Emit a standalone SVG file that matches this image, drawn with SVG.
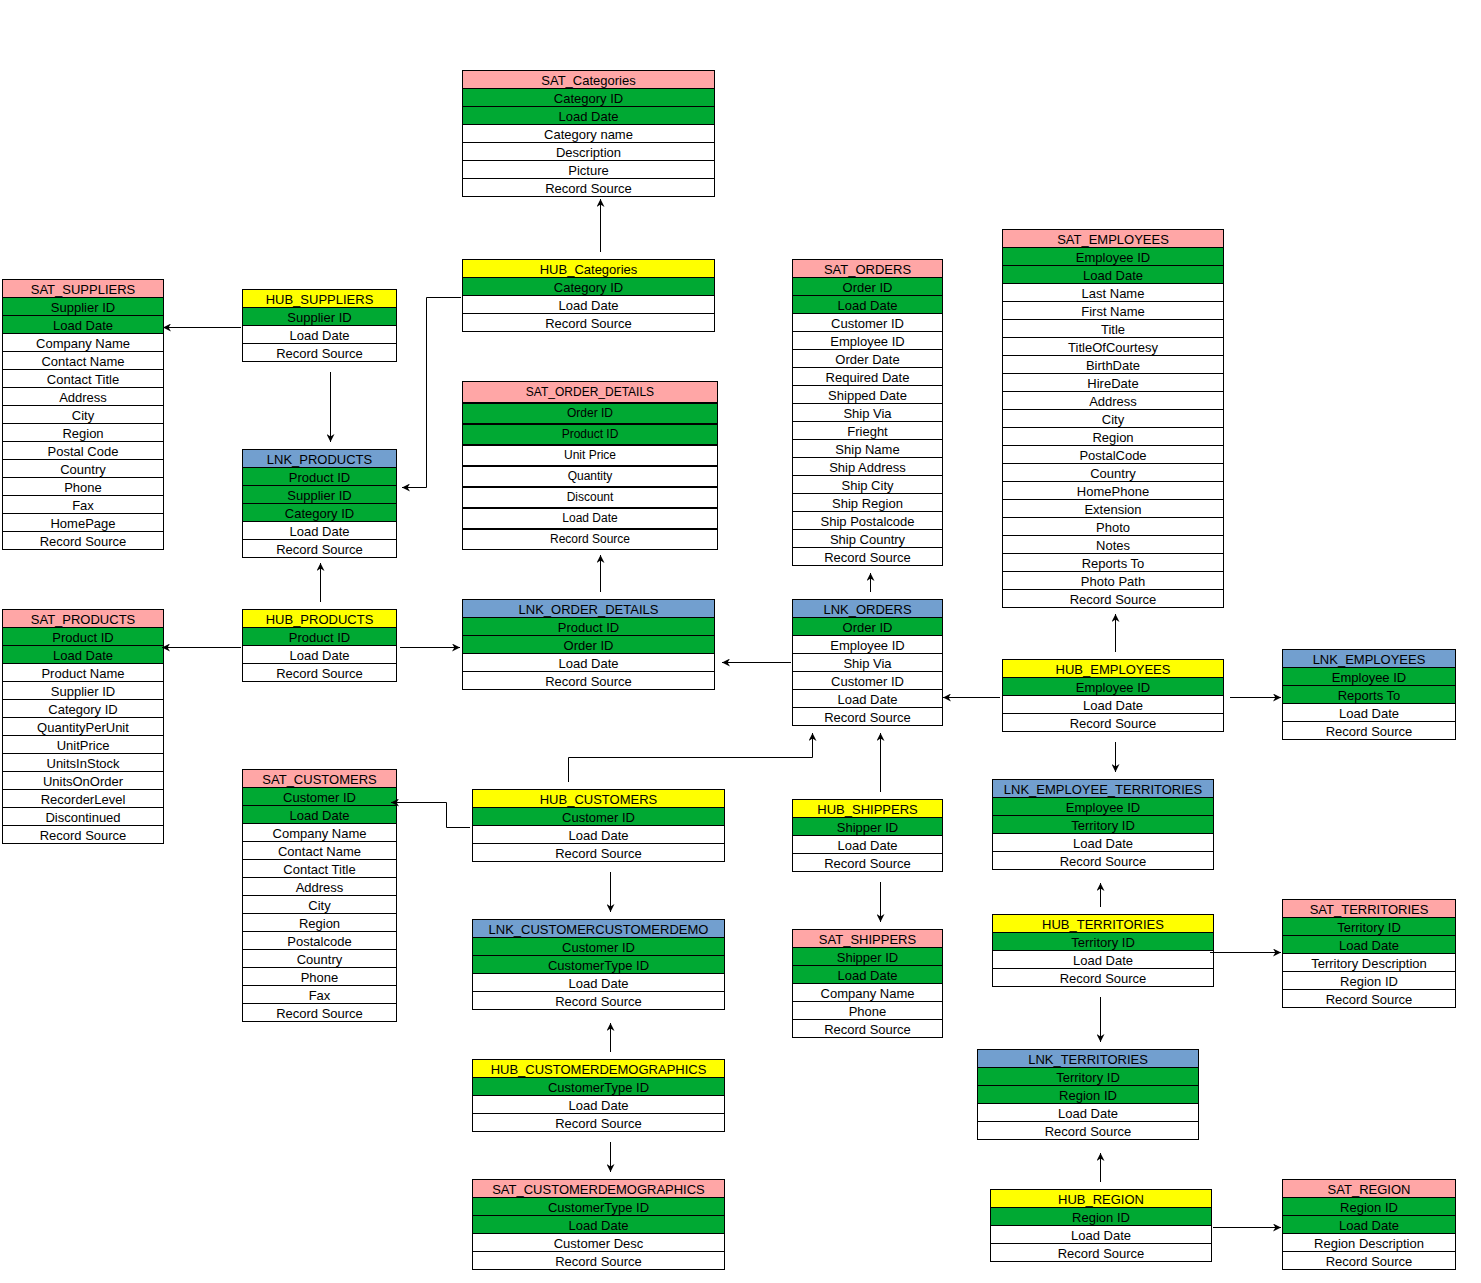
<svg xmlns="http://www.w3.org/2000/svg" width="1481" height="1283" viewBox="0 0 1481 1283">
<style>
.p{fill:#FFA6A6}.y{fill:#FFFF00}.b{fill:#729FCF}.g{fill:#00A933}.w{fill:#FFFFFF}
g rect{stroke:#000;stroke-width:1}
text{font-family:"Liberation Sans",Arial,sans-serif;font-size:13px;text-anchor:middle;fill:#000}
.s text{font-size:12px}
.c path{fill:none;stroke:#000;stroke-width:1;marker-end:url(#a)}
.d{stroke:#000;stroke-width:1}
</style>
<defs>
<marker id="a" viewBox="0 0 10 10" refX="10" refY="5" markerWidth="8" markerHeight="8" markerUnits="userSpaceOnUse" orient="auto"><path d="M0,0 L10,5 L0,10 L3,5 z" fill="#000"/></marker>
</defs>
<rect x="0" y="0" width="1481" height="1283" style="fill:#fff;stroke:none"/>

<g id="sat_categories">
<rect class="p" x="462.5" y="70.5" width="252" height="18"/><text x="588.5" y="85.3">SAT_Categories</text>
<rect class="g" x="462.5" y="88.5" width="252" height="18"/><text x="588.5" y="103.3">Category ID</text>
<rect class="g" x="462.5" y="106.5" width="252" height="18"/><text x="588.5" y="121.3">Load Date</text>
<rect class="w" x="462.5" y="124.5" width="252" height="18"/><text x="588.5" y="139.3">Category name</text>
<rect class="w" x="462.5" y="142.5" width="252" height="18"/><text x="588.5" y="157.3">Description</text>
<rect class="w" x="462.5" y="160.5" width="252" height="18"/><text x="588.5" y="175.3">Picture</text>
<rect class="w" x="462.5" y="178.5" width="252" height="18"/><text x="588.5" y="193.3">Record Source</text>
</g>

<g id="hub_categories">
<rect class="y" x="462.5" y="259.5" width="252" height="18"/><text x="588.5" y="274.3">HUB_Categories</text>
<rect class="g" x="462.5" y="277.5" width="252" height="18"/><text x="588.5" y="292.3">Category ID</text>
<rect class="w" x="462.5" y="295.5" width="252" height="18"/><text x="588.5" y="310.3">Load Date</text>
<rect class="w" x="462.5" y="313.5" width="252" height="18"/><text x="588.5" y="328.3">Record Source</text>
</g>

<g id="sat_suppliers">
<rect class="p" x="2.5" y="279.5" width="161" height="18"/><text x="83" y="294.3">SAT_SUPPLIERS</text>
<rect class="g" x="2.5" y="297.5" width="161" height="18"/><text x="83" y="312.3">Supplier ID</text>
<rect class="g" x="2.5" y="315.5" width="161" height="18"/><text x="83" y="330.3">Load Date</text>
<rect class="w" x="2.5" y="333.5" width="161" height="18"/><text x="83" y="348.3">Company Name</text>
<rect class="w" x="2.5" y="351.5" width="161" height="18"/><text x="83" y="366.3">Contact Name</text>
<rect class="w" x="2.5" y="369.5" width="161" height="18"/><text x="83" y="384.3">Contact Title</text>
<rect class="w" x="2.5" y="387.5" width="161" height="18"/><text x="83" y="402.3">Address</text>
<rect class="w" x="2.5" y="405.5" width="161" height="18"/><text x="83" y="420.3">City</text>
<rect class="w" x="2.5" y="423.5" width="161" height="18"/><text x="83" y="438.3">Region</text>
<rect class="w" x="2.5" y="441.5" width="161" height="18"/><text x="83" y="456.3">Postal Code</text>
<rect class="w" x="2.5" y="459.5" width="161" height="18"/><text x="83" y="474.3">Country</text>
<rect class="w" x="2.5" y="477.5" width="161" height="18"/><text x="83" y="492.3">Phone</text>
<rect class="w" x="2.5" y="495.5" width="161" height="18"/><text x="83" y="510.3">Fax</text>
<rect class="w" x="2.5" y="513.5" width="161" height="18"/><text x="83" y="528.3">HomePage</text>
<rect class="w" x="2.5" y="531.5" width="161" height="18"/><text x="83" y="546.3">Record Source</text>
</g>

<g id="hub_suppliers">
<rect class="y" x="242.5" y="289.5" width="154" height="18"/><text x="319.5" y="304.3">HUB_SUPPLIERS</text>
<rect class="g" x="242.5" y="307.5" width="154" height="18"/><text x="319.5" y="322.3">Supplier ID</text>
<rect class="w" x="242.5" y="325.5" width="154" height="18"/><text x="319.5" y="340.3">Load Date</text>
<rect class="w" x="242.5" y="343.5" width="154" height="18"/><text x="319.5" y="358.3">Record Source</text>
</g>

<g id="lnk_products">
<rect class="b" x="242.5" y="449.5" width="154" height="18"/><text x="319.5" y="464.3">LNK_PRODUCTS</text>
<rect class="g" x="242.5" y="467.5" width="154" height="18"/><text x="319.5" y="482.3">Product ID</text>
<rect class="g" x="242.5" y="485.5" width="154" height="18"/><text x="319.5" y="500.3">Supplier ID</text>
<rect class="g" x="242.5" y="503.5" width="154" height="18"/><text x="319.5" y="518.3">Category ID</text>
<rect class="w" x="242.5" y="521.5" width="154" height="18"/><text x="319.5" y="536.3">Load Date</text>
<rect class="w" x="242.5" y="539.5" width="154" height="18"/><text x="319.5" y="554.3">Record Source</text>
</g>

<g id="sat_order_details" class="s">
<rect class="p" x="462.5" y="381.5" width="255" height="21"/><text x="590" y="396.3">SAT_ORDER_DETAILS</text>
<rect class="g" x="462.5" y="402.5" width="255" height="21"/><text x="590" y="417.3">Order ID</text>
<rect class="g" x="462.5" y="423.5" width="255" height="21"/><text x="590" y="438.3">Product ID</text>
<rect class="w" x="462.5" y="444.5" width="255" height="21"/><text x="590" y="459.3">Unit Price</text>
<rect class="w" x="462.5" y="465.5" width="255" height="21"/><text x="590" y="480.3">Quantity</text>
<rect class="w" x="462.5" y="486.5" width="255" height="21"/><text x="590" y="501.3">Discount</text>
<rect class="w" x="462.5" y="507.5" width="255" height="21"/><text x="590" y="522.3">Load Date</text>
<rect class="w" x="462.5" y="528.5" width="255" height="21"/><text x="590" y="543.3">Record Source</text>
<path class="d" d="M462,403.5H718M462,424.5H718M462,445.5H718M462,466.5H718M462,487.5H718M462,508.5H718M462,529.5H718"/>
</g>

<g id="sat_orders">
<rect class="p" x="792.5" y="259.5" width="150" height="18"/><text x="867.5" y="274.3">SAT_ORDERS</text>
<rect class="g" x="792.5" y="277.5" width="150" height="18"/><text x="867.5" y="292.3">Order ID</text>
<rect class="g" x="792.5" y="295.5" width="150" height="18"/><text x="867.5" y="310.3">Load Date</text>
<rect class="w" x="792.5" y="313.5" width="150" height="18"/><text x="867.5" y="328.3">Customer ID</text>
<rect class="w" x="792.5" y="331.5" width="150" height="18"/><text x="867.5" y="346.3">Employee ID</text>
<rect class="w" x="792.5" y="349.5" width="150" height="18"/><text x="867.5" y="364.3">Order Date</text>
<rect class="w" x="792.5" y="367.5" width="150" height="18"/><text x="867.5" y="382.3">Required Date</text>
<rect class="w" x="792.5" y="385.5" width="150" height="18"/><text x="867.5" y="400.3">Shipped Date</text>
<rect class="w" x="792.5" y="403.5" width="150" height="18"/><text x="867.5" y="418.3">Ship Via</text>
<rect class="w" x="792.5" y="421.5" width="150" height="18"/><text x="867.5" y="436.3">Frieght</text>
<rect class="w" x="792.5" y="439.5" width="150" height="18"/><text x="867.5" y="454.3">Ship Name</text>
<rect class="w" x="792.5" y="457.5" width="150" height="18"/><text x="867.5" y="472.3">Ship Address</text>
<rect class="w" x="792.5" y="475.5" width="150" height="18"/><text x="867.5" y="490.3">Ship City</text>
<rect class="w" x="792.5" y="493.5" width="150" height="18"/><text x="867.5" y="508.3">Ship Region</text>
<rect class="w" x="792.5" y="511.5" width="150" height="18"/><text x="867.5" y="526.3">Ship Postalcode</text>
<rect class="w" x="792.5" y="529.5" width="150" height="18"/><text x="867.5" y="544.3">Ship Country</text>
<rect class="w" x="792.5" y="547.5" width="150" height="18"/><text x="867.5" y="562.3">Record Source</text>
</g>

<g id="sat_employees">
<rect class="p" x="1002.5" y="229.5" width="221" height="18"/><text x="1113" y="244.3">SAT_EMPLOYEES</text>
<rect class="g" x="1002.5" y="247.5" width="221" height="18"/><text x="1113" y="262.3">Employee ID</text>
<rect class="g" x="1002.5" y="265.5" width="221" height="18"/><text x="1113" y="280.3">Load Date</text>
<rect class="w" x="1002.5" y="283.5" width="221" height="18"/><text x="1113" y="298.3">Last Name</text>
<rect class="w" x="1002.5" y="301.5" width="221" height="18"/><text x="1113" y="316.3">First Name</text>
<rect class="w" x="1002.5" y="319.5" width="221" height="18"/><text x="1113" y="334.3">Title</text>
<rect class="w" x="1002.5" y="337.5" width="221" height="18"/><text x="1113" y="352.3">TitleOfCourtesy</text>
<rect class="w" x="1002.5" y="355.5" width="221" height="18"/><text x="1113" y="370.3">BirthDate</text>
<rect class="w" x="1002.5" y="373.5" width="221" height="18"/><text x="1113" y="388.3">HireDate</text>
<rect class="w" x="1002.5" y="391.5" width="221" height="18"/><text x="1113" y="406.3">Address</text>
<rect class="w" x="1002.5" y="409.5" width="221" height="18"/><text x="1113" y="424.3">City</text>
<rect class="w" x="1002.5" y="427.5" width="221" height="18"/><text x="1113" y="442.3">Region</text>
<rect class="w" x="1002.5" y="445.5" width="221" height="18"/><text x="1113" y="460.3">PostalCode</text>
<rect class="w" x="1002.5" y="463.5" width="221" height="18"/><text x="1113" y="478.3">Country</text>
<rect class="w" x="1002.5" y="481.5" width="221" height="18"/><text x="1113" y="496.3">HomePhone</text>
<rect class="w" x="1002.5" y="499.5" width="221" height="18"/><text x="1113" y="514.3">Extension</text>
<rect class="w" x="1002.5" y="517.5" width="221" height="18"/><text x="1113" y="532.3">Photo</text>
<rect class="w" x="1002.5" y="535.5" width="221" height="18"/><text x="1113" y="550.3">Notes</text>
<rect class="w" x="1002.5" y="553.5" width="221" height="18"/><text x="1113" y="568.3">Reports To</text>
<rect class="w" x="1002.5" y="571.5" width="221" height="18"/><text x="1113" y="586.3">Photo Path</text>
<rect class="w" x="1002.5" y="589.5" width="221" height="18"/><text x="1113" y="604.3">Record Source</text>
</g>

<g id="sat_products">
<rect class="p" x="2.5" y="609.5" width="161" height="18"/><text x="83" y="624.3">SAT_PRODUCTS</text>
<rect class="g" x="2.5" y="627.5" width="161" height="18"/><text x="83" y="642.3">Product ID</text>
<rect class="g" x="2.5" y="645.5" width="161" height="18"/><text x="83" y="660.3">Load Date</text>
<rect class="w" x="2.5" y="663.5" width="161" height="18"/><text x="83" y="678.3">Product Name</text>
<rect class="w" x="2.5" y="681.5" width="161" height="18"/><text x="83" y="696.3">Supplier ID</text>
<rect class="w" x="2.5" y="699.5" width="161" height="18"/><text x="83" y="714.3">Category ID</text>
<rect class="w" x="2.5" y="717.5" width="161" height="18"/><text x="83" y="732.3">QuantityPerUnit</text>
<rect class="w" x="2.5" y="735.5" width="161" height="18"/><text x="83" y="750.3">UnitPrice</text>
<rect class="w" x="2.5" y="753.5" width="161" height="18"/><text x="83" y="768.3">UnitsInStock</text>
<rect class="w" x="2.5" y="771.5" width="161" height="18"/><text x="83" y="786.3">UnitsOnOrder</text>
<rect class="w" x="2.5" y="789.5" width="161" height="18"/><text x="83" y="804.3">RecorderLevel</text>
<rect class="w" x="2.5" y="807.5" width="161" height="18"/><text x="83" y="822.3">Discontinued</text>
<rect class="w" x="2.5" y="825.5" width="161" height="18"/><text x="83" y="840.3">Record Source</text>
</g>

<g id="hub_products">
<rect class="y" x="242.5" y="609.5" width="154" height="18"/><text x="319.5" y="624.3">HUB_PRODUCTS</text>
<rect class="g" x="242.5" y="627.5" width="154" height="18"/><text x="319.5" y="642.3">Product ID</text>
<rect class="w" x="242.5" y="645.5" width="154" height="18"/><text x="319.5" y="660.3">Load Date</text>
<rect class="w" x="242.5" y="663.5" width="154" height="18"/><text x="319.5" y="678.3">Record Source</text>
</g>

<g id="lnk_order_details">
<rect class="b" x="462.5" y="599.5" width="252" height="18"/><text x="588.5" y="614.3">LNK_ORDER_DETAILS</text>
<rect class="g" x="462.5" y="617.5" width="252" height="18"/><text x="588.5" y="632.3">Product ID</text>
<rect class="g" x="462.5" y="635.5" width="252" height="18"/><text x="588.5" y="650.3">Order ID</text>
<rect class="w" x="462.5" y="653.5" width="252" height="18"/><text x="588.5" y="668.3">Load Date</text>
<rect class="w" x="462.5" y="671.5" width="252" height="18"/><text x="588.5" y="686.3">Record Source</text>
</g>

<g id="lnk_orders">
<rect class="b" x="792.5" y="599.5" width="150" height="18"/><text x="867.5" y="614.3">LNK_ORDERS</text>
<rect class="g" x="792.5" y="617.5" width="150" height="18"/><text x="867.5" y="632.3">Order ID</text>
<rect class="w" x="792.5" y="635.5" width="150" height="18"/><text x="867.5" y="650.3">Employee ID</text>
<rect class="w" x="792.5" y="653.5" width="150" height="18"/><text x="867.5" y="668.3">Ship Via</text>
<rect class="w" x="792.5" y="671.5" width="150" height="18"/><text x="867.5" y="686.3">Customer ID</text>
<rect class="w" x="792.5" y="689.5" width="150" height="18"/><text x="867.5" y="704.3">Load Date</text>
<rect class="w" x="792.5" y="707.5" width="150" height="18"/><text x="867.5" y="722.3">Record Source</text>
</g>

<g id="hub_employees">
<rect class="y" x="1002.5" y="659.5" width="221" height="18"/><text x="1113" y="674.3">HUB_EMPLOYEES</text>
<rect class="g" x="1002.5" y="677.5" width="221" height="18"/><text x="1113" y="692.3">Employee ID</text>
<rect class="w" x="1002.5" y="695.5" width="221" height="18"/><text x="1113" y="710.3">Load Date</text>
<rect class="w" x="1002.5" y="713.5" width="221" height="18"/><text x="1113" y="728.3">Record Source</text>
</g>

<g id="lnk_employees">
<rect class="b" x="1282.5" y="649.5" width="173" height="18"/><text x="1369" y="664.3">LNK_EMPLOYEES</text>
<rect class="g" x="1282.5" y="667.5" width="173" height="18"/><text x="1369" y="682.3">Employee ID</text>
<rect class="g" x="1282.5" y="685.5" width="173" height="18"/><text x="1369" y="700.3">Reports To</text>
<rect class="w" x="1282.5" y="703.5" width="173" height="18"/><text x="1369" y="718.3">Load Date</text>
<rect class="w" x="1282.5" y="721.5" width="173" height="18"/><text x="1369" y="736.3">Record Source</text>
</g>

<g id="sat_customers">
<rect class="p" x="242.5" y="769.5" width="154" height="18"/><text x="319.5" y="784.3">SAT_CUSTOMERS</text>
<rect class="g" x="242.5" y="787.5" width="154" height="18"/><text x="319.5" y="802.3">Customer ID</text>
<rect class="g" x="242.5" y="805.5" width="154" height="18"/><text x="319.5" y="820.3">Load Date</text>
<rect class="w" x="242.5" y="823.5" width="154" height="18"/><text x="319.5" y="838.3">Company Name</text>
<rect class="w" x="242.5" y="841.5" width="154" height="18"/><text x="319.5" y="856.3">Contact Name</text>
<rect class="w" x="242.5" y="859.5" width="154" height="18"/><text x="319.5" y="874.3">Contact Title</text>
<rect class="w" x="242.5" y="877.5" width="154" height="18"/><text x="319.5" y="892.3">Address</text>
<rect class="w" x="242.5" y="895.5" width="154" height="18"/><text x="319.5" y="910.3">City</text>
<rect class="w" x="242.5" y="913.5" width="154" height="18"/><text x="319.5" y="928.3">Region</text>
<rect class="w" x="242.5" y="931.5" width="154" height="18"/><text x="319.5" y="946.3">Postalcode</text>
<rect class="w" x="242.5" y="949.5" width="154" height="18"/><text x="319.5" y="964.3">Country</text>
<rect class="w" x="242.5" y="967.5" width="154" height="18"/><text x="319.5" y="982.3">Phone</text>
<rect class="w" x="242.5" y="985.5" width="154" height="18"/><text x="319.5" y="1000.3">Fax</text>
<rect class="w" x="242.5" y="1003.5" width="154" height="18"/><text x="319.5" y="1018.3">Record Source</text>
</g>

<g id="hub_customers">
<rect class="y" x="472.5" y="789.5" width="252" height="18"/><text x="598.5" y="804.3">HUB_CUSTOMERS</text>
<rect class="g" x="472.5" y="807.5" width="252" height="18"/><text x="598.5" y="822.3">Customer ID</text>
<rect class="w" x="472.5" y="825.5" width="252" height="18"/><text x="598.5" y="840.3">Load Date</text>
<rect class="w" x="472.5" y="843.5" width="252" height="18"/><text x="598.5" y="858.3">Record Source</text>
</g>

<g id="hub_shippers">
<rect class="y" x="792.5" y="799.5" width="150" height="18"/><text x="867.5" y="814.3">HUB_SHIPPERS</text>
<rect class="g" x="792.5" y="817.5" width="150" height="18"/><text x="867.5" y="832.3">Shipper ID</text>
<rect class="w" x="792.5" y="835.5" width="150" height="18"/><text x="867.5" y="850.3">Load Date</text>
<rect class="w" x="792.5" y="853.5" width="150" height="18"/><text x="867.5" y="868.3">Record Source</text>
</g>

<g id="lnk_customercustomerdemo">
<rect class="b" x="472.5" y="919.5" width="252" height="18"/><text x="598.5" y="934.3">LNK_CUSTOMERCUSTOMERDEMO</text>
<rect class="g" x="472.5" y="937.5" width="252" height="18"/><text x="598.5" y="952.3">Customer ID</text>
<rect class="g" x="472.5" y="955.5" width="252" height="18"/><text x="598.5" y="970.3">CustomerType ID</text>
<rect class="w" x="472.5" y="973.5" width="252" height="18"/><text x="598.5" y="988.3">Load Date</text>
<rect class="w" x="472.5" y="991.5" width="252" height="18"/><text x="598.5" y="1006.3">Record Source</text>
</g>

<g id="sat_shippers">
<rect class="p" x="792.5" y="929.5" width="150" height="18"/><text x="867.5" y="944.3">SAT_SHIPPERS</text>
<rect class="g" x="792.5" y="947.5" width="150" height="18"/><text x="867.5" y="962.3">Shipper ID</text>
<rect class="g" x="792.5" y="965.5" width="150" height="18"/><text x="867.5" y="980.3">Load Date</text>
<rect class="w" x="792.5" y="983.5" width="150" height="18"/><text x="867.5" y="998.3">Company Name</text>
<rect class="w" x="792.5" y="1001.5" width="150" height="18"/><text x="867.5" y="1016.3">Phone</text>
<rect class="w" x="792.5" y="1019.5" width="150" height="18"/><text x="867.5" y="1034.3">Record Source</text>
</g>

<g id="lnk_employee_territories">
<rect class="b" x="992.5" y="779.5" width="221" height="18"/><text x="1103" y="794.3">LNK_EMPLOYEE_TERRITORIES</text>
<rect class="g" x="992.5" y="797.5" width="221" height="18"/><text x="1103" y="812.3">Employee ID</text>
<rect class="g" x="992.5" y="815.5" width="221" height="18"/><text x="1103" y="830.3">Territory ID</text>
<rect class="w" x="992.5" y="833.5" width="221" height="18"/><text x="1103" y="848.3">Load Date</text>
<rect class="w" x="992.5" y="851.5" width="221" height="18"/><text x="1103" y="866.3">Record Source</text>
</g>

<g id="hub_territories">
<rect class="y" x="992.5" y="914.5" width="221" height="18"/><text x="1103" y="929.3">HUB_TERRITORIES</text>
<rect class="g" x="992.5" y="932.5" width="221" height="18"/><text x="1103" y="947.3">Territory ID</text>
<rect class="w" x="992.5" y="950.5" width="221" height="18"/><text x="1103" y="965.3">Load Date</text>
<rect class="w" x="992.5" y="968.5" width="221" height="18"/><text x="1103" y="983.3">Record Source</text>
</g>

<g id="sat_territories">
<rect class="p" x="1282.5" y="899.5" width="173" height="18"/><text x="1369" y="914.3">SAT_TERRITORIES</text>
<rect class="g" x="1282.5" y="917.5" width="173" height="18"/><text x="1369" y="932.3">Territory ID</text>
<rect class="g" x="1282.5" y="935.5" width="173" height="18"/><text x="1369" y="950.3">Load Date</text>
<rect class="w" x="1282.5" y="953.5" width="173" height="18"/><text x="1369" y="968.3">Territory Description</text>
<rect class="w" x="1282.5" y="971.5" width="173" height="18"/><text x="1369" y="986.3">Region ID</text>
<rect class="w" x="1282.5" y="989.5" width="173" height="18"/><text x="1369" y="1004.3">Record Source</text>
</g>

<g id="hub_customerdemographics">
<rect class="y" x="472.5" y="1059.5" width="252" height="18"/><text x="598.5" y="1074.3">HUB_CUSTOMERDEMOGRAPHICS</text>
<rect class="g" x="472.5" y="1077.5" width="252" height="18"/><text x="598.5" y="1092.3">CustomerType ID</text>
<rect class="w" x="472.5" y="1095.5" width="252" height="18"/><text x="598.5" y="1110.3">Load Date</text>
<rect class="w" x="472.5" y="1113.5" width="252" height="18"/><text x="598.5" y="1128.3">Record Source</text>
</g>

<g id="sat_customerdemographics">
<rect class="p" x="472.5" y="1179.5" width="252" height="18"/><text x="598.5" y="1194.3">SAT_CUSTOMERDEMOGRAPHICS</text>
<rect class="g" x="472.5" y="1197.5" width="252" height="18"/><text x="598.5" y="1212.3">CustomerType ID</text>
<rect class="g" x="472.5" y="1215.5" width="252" height="18"/><text x="598.5" y="1230.3">Load Date</text>
<rect class="w" x="472.5" y="1233.5" width="252" height="18"/><text x="598.5" y="1248.3">Customer Desc</text>
<rect class="w" x="472.5" y="1251.5" width="252" height="18"/><text x="598.5" y="1266.3">Record Source</text>
</g>

<g id="lnk_territories">
<rect class="b" x="977.5" y="1049.5" width="221" height="18"/><text x="1088" y="1064.3">LNK_TERRITORIES</text>
<rect class="g" x="977.5" y="1067.5" width="221" height="18"/><text x="1088" y="1082.3">Territory ID</text>
<rect class="g" x="977.5" y="1085.5" width="221" height="18"/><text x="1088" y="1100.3">Region ID</text>
<rect class="w" x="977.5" y="1103.5" width="221" height="18"/><text x="1088" y="1118.3">Load Date</text>
<rect class="w" x="977.5" y="1121.5" width="221" height="18"/><text x="1088" y="1136.3">Record Source</text>
</g>

<g id="hub_region">
<rect class="y" x="990.5" y="1189.5" width="221" height="18"/><text x="1101" y="1204.3">HUB_REGION</text>
<rect class="g" x="990.5" y="1207.5" width="221" height="18"/><text x="1101" y="1222.3">Region ID</text>
<rect class="w" x="990.5" y="1225.5" width="221" height="18"/><text x="1101" y="1240.3">Load Date</text>
<rect class="w" x="990.5" y="1243.5" width="221" height="18"/><text x="1101" y="1258.3">Record Source</text>
</g>

<g id="sat_region">
<rect class="p" x="1282.5" y="1179.5" width="173" height="18"/><text x="1369" y="1194.3">SAT_REGION</text>
<rect class="g" x="1282.5" y="1197.5" width="173" height="18"/><text x="1369" y="1212.3">Region ID</text>
<rect class="g" x="1282.5" y="1215.5" width="173" height="18"/><text x="1369" y="1230.3">Load Date</text>
<rect class="w" x="1282.5" y="1233.5" width="173" height="18"/><text x="1369" y="1248.3">Region Description</text>
<rect class="w" x="1282.5" y="1251.5" width="173" height="18"/><text x="1369" y="1266.3">Record Source</text>
</g>

<g id="connectors" class="c">
<path d="M600.5,252 V199"/>
<path d="M461,297.5 H426.5 V487.5 H402"/>
<path d="M241,327.5 H163"/>
<path d="M330.5,372 V442"/>
<path d="M320.5,602 V563"/>
<path d="M241,647.5 H162"/>
<path d="M400,647.5 H460"/>
<path d="M600.5,592 V555"/>
<path d="M791,662.5 H722"/>
<path d="M870.5,592 V573"/>
<path d="M1000,697.5 H943"/>
<path d="M1115.5,652 V614"/>
<path d="M1230,697.5 H1281"/>
<path d="M1115.5,742 V772"/>
<path d="M568.5,782 V757.5 H812.5 V733"/>
<path d="M880.5,792 V733"/>
<path d="M470,827.5 H446.5 V802.5 H391"/>
<path d="M610.5,872 V912"/>
<path d="M610.5,1052 V1023"/>
<path d="M610.5,1142 V1172"/>
<path d="M880.5,882 V922"/>
<path d="M1100.5,907 V883"/>
<path d="M1210,952.5 H1281"/>
<path d="M1100.5,997 V1042"/>
<path d="M1100.5,1182 V1153"/>
<path d="M1213,1227.5 H1281"/>
</g>
</svg>
